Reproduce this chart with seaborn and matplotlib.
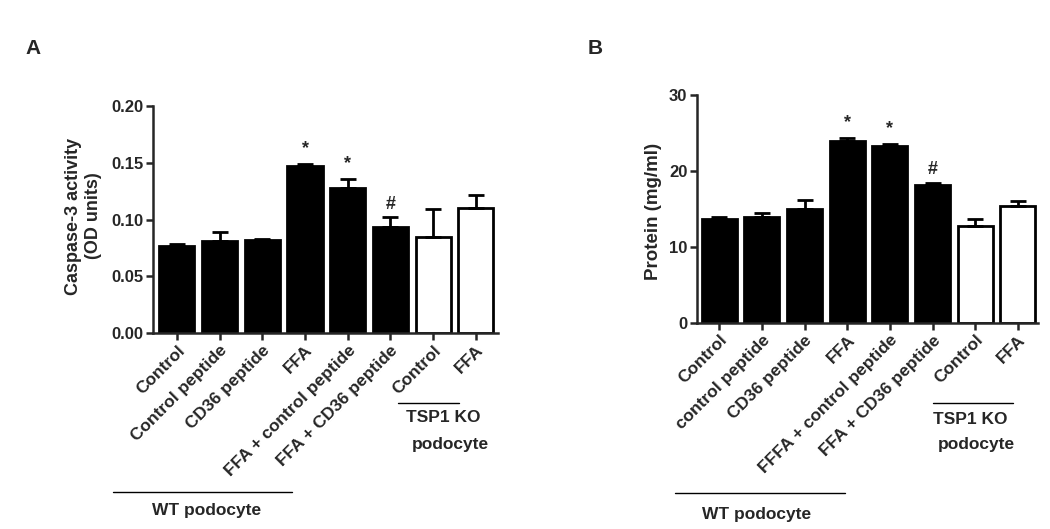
import numpy as np
import pandas as pd
import seaborn as sns
import matplotlib.pyplot as plt
from matplotlib.lines import Line2D

# panel A: caspase-3 activity
labels_a = ["Control", "Control peptide", "CD36 peptide", "FFA",
            "FFA + control peptide", "FFA + CD36 peptide", "Control", "FFA"]
caspase_mean = [0.077, 0.081, 0.082, 0.147, 0.128, 0.093, 0.085, 0.110]
caspase_err = [0.001, 0.008, 0.001, 0.002, 0.008, 0.009, 0.024, 0.012]
marks_a = ["", "", "", "*", "*", "#", "", ""]

# panel B: protein
labels_b = ["Control", "control peptide", "CD36 peptide", "FFA",
            "FFFA + control peptide", "FFA + CD36 peptide", "Control", "FFA"]
protein_mean = [13.6, 13.9, 15.0, 24.0, 23.3, 18.1, 12.7, 15.4]
protein_err = [0.3, 0.6, 1.2, 0.3, 0.2, 0.35, 0.9, 0.7]
marks_b = ["", "", "", "*", "*", "#", "", ""]

cells = ["WT"] * 6 + ["KO"] * 2

sns.set_style("ticks")
plt.rcParams["font.family"] = ["Liberation Sans", "DejaVu Sans"]
plt.rcParams["font.weight"] = "bold"
plt.rcParams["axes.labelweight"] = "bold"

fig = plt.figure(figsize=(10.5, 5.29), dpi=100)
ax_a = fig.add_axes([0.1457, 0.3705, 0.3286, 0.4291])
ax_b = fig.add_axes([0.6638, 0.39, 0.3248, 0.4304])


def draw_panel(ax, labels, mean, err, marks, ylim, yticks, ytick_fmt, ylabel):
    df = pd.DataFrame({"pos": np.arange(len(mean)), "value": mean, "cell": cells})
    sns.barplot(data=df, x="pos", y="value", hue="cell", dodge=False,
                palette={"WT": "black", "KO": "white"}, edgecolor="black",
                linewidth=2.0, width=0.82, legend=False, ax=ax)
    ax.errorbar(df["pos"], df["value"], yerr=[np.zeros(len(err)), err],
                fmt="none", ecolor="black", elinewidth=2.0, capsize=6,
                capthick=2.0, zorder=1)
    for p, m, e, s in zip(df["pos"], mean, err, marks):
        if s:
            off = 5 if s == "*" else 3
            ax.annotate(s, (p, m + e), xytext=(0, off), textcoords="offset points",
                        ha="center", va="bottom", fontsize=13)
    ax.set_ylim(*ylim)
    ax.set_yticks(yticks)
    ax.set_yticklabels([ytick_fmt.format(t) for t in yticks], fontsize=12)
    ax.set_xticks(df["pos"])
    ax.set_xticklabels(labels, rotation=45, ha="right", rotation_mode="anchor",
                       fontsize=12.5)
    ax.set_xlabel("")
    ax.set_ylabel(ylabel, fontsize=13)
    sns.despine(ax=ax)
    for sp in ["left", "bottom"]:
        ax.spines[sp].set_linewidth(1.8)
    ax.tick_params(width=1.8, length=5, pad=2)


draw_panel(ax_a, labels_a, caspase_mean, caspase_err, marks_a, (0, 0.20),
           [0, 0.05, 0.10, 0.15, 0.20], "{:.2f}",
           "Caspase-3 activity\n(OD units)")
ax_a.set_xlim(-0.56, 7.52)
ax_a.yaxis.set_label_coords(-0.148, 0.515)
draw_panel(ax_b, labels_b, protein_mean, protein_err, marks_b, (0, 30),
           [0, 10, 20, 30], "{:.0f}", "Protein (mg/ml)")
ax_b.set_xlim(-0.52, 7.47)
ax_b.yaxis.set_label_coords(-0.103, 0.488)
ax_b.yaxis.label.set_fontsize(13.5)

W, H = 1050, 529


def line(x0, x1, y):
    fig.add_artist(Line2D([x0 / W, x1 / W], [1 - y / H, 1 - y / H],
                          color="black", linewidth=1.0))


def label(x, y, s):
    fig.text(x / W, 1 - y / H, s, ha="center", va="center",
             fontsize=12.5, fontweight="bold")


line(113, 292, 492)
label(207, 511, "WT podocyte")
line(398, 459, 403)
label(443, 418, "TSP1 KO")
label(450, 445, "podocyte")

line(675, 845, 493)
label(757, 515, "WT podocyte")
line(933, 1013, 403)
label(970, 420, "TSP1 KO")
label(976, 445, "podocyte")

fig.text(25 / W, 1 - 48 / H, "A", fontsize=15, fontweight="bold", va="center")
fig.text(588 / W, 1 - 48 / H, "B", fontsize=15, fontweight="bold", va="center")

fig.savefig("out.png", dpi=100)
